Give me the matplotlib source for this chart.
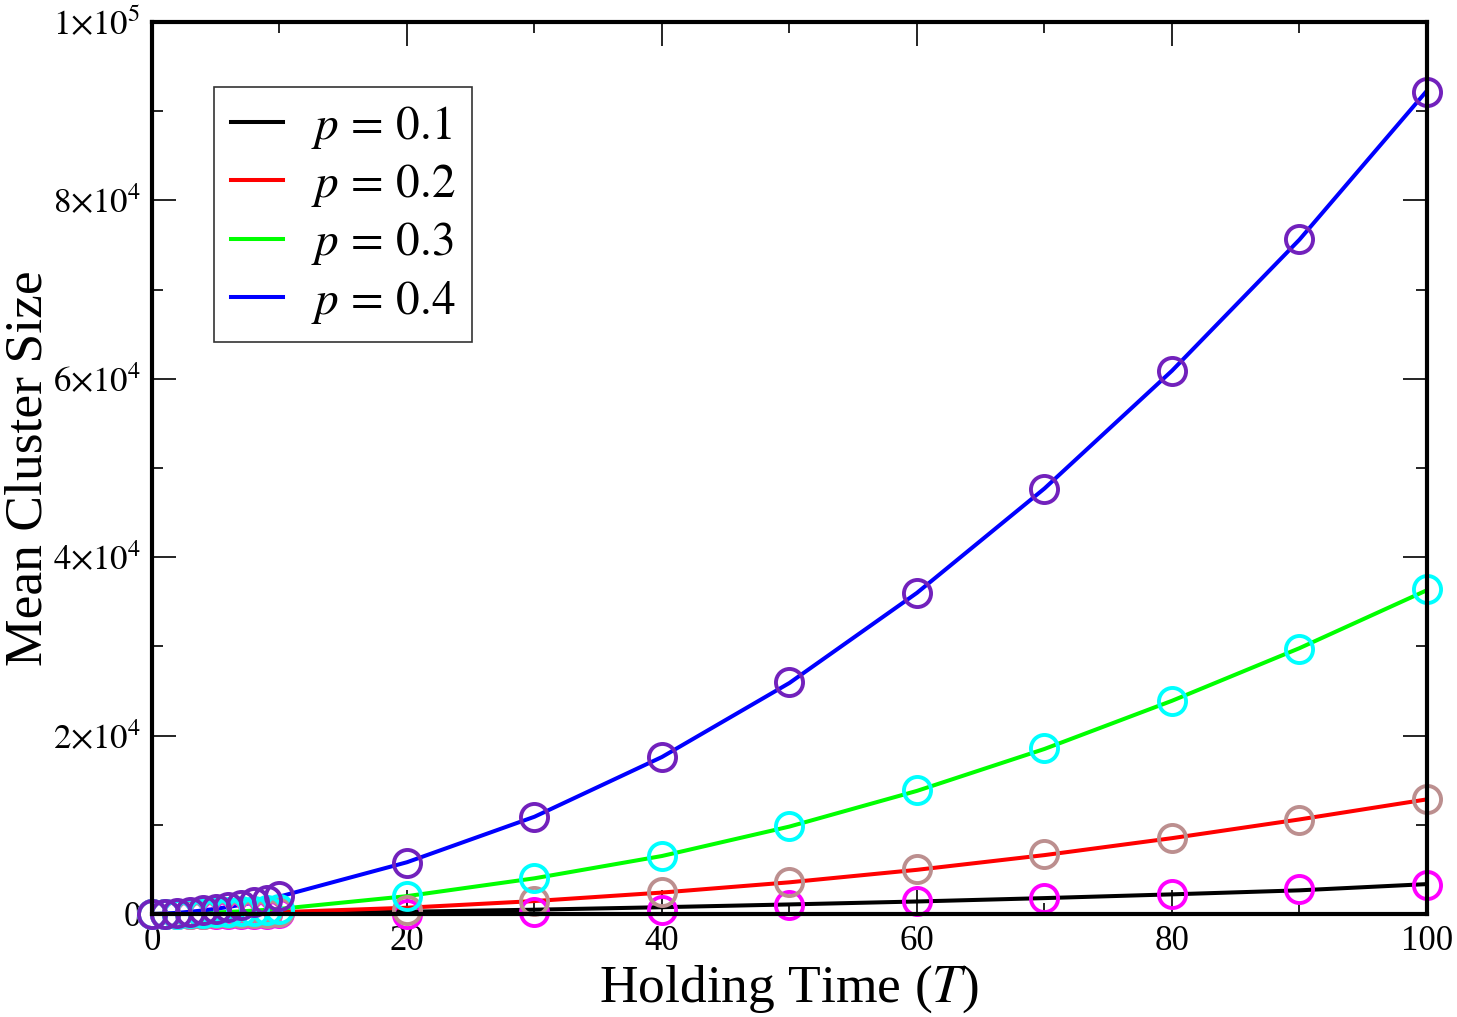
import matplotlib
matplotlib.use("Agg")
import matplotlib.pyplot as plt
from matplotlib.ticker import MultipleLocator, FuncFormatter

plt.rcParams['font.family'] = 'serif'
plt.rcParams['font.serif'] = ['Liberation Serif', 'DejaVu Serif']
plt.rcParams['mathtext.fontset'] = 'stix'

# holding time values
T = [0, 1, 2, 3, 4, 5, 6, 7, 8, 9, 10, 20, 30, 40, 50, 60, 70, 80, 90, 100]

# fitted curves (lines)
line_p01 = [0, 1, 3, 6, 10, 15, 21, 28, 36, 45, 55,
            250, 480, 760, 1070, 1400, 1780, 2200, 2650, 3350]
line_p02 = [0, 4, 12, 24, 40, 58, 80, 105, 133, 165, 200,
            700, 1450, 2400, 3550, 4950, 6600, 8500, 10600, 12850]
line_p03 = [0, 10, 35, 70, 115, 170, 230, 300, 380, 470, 570,
            2000, 4000, 6500, 9800, 13800, 18500, 23900, 29800, 36300]
line_p04 = [0, 45, 130, 250, 400, 580, 790, 1030, 1300, 1590, 1950,
            5800, 10900, 17600, 25900, 36000, 47700, 60900, 75600, 92300]

# simulation points (circles)
pts_p01 = [0, 1, 4, 8, 13, 18, 25, 32, 40, 50, 60,
           30, 250, 500, 1000, 1400, 1750, 2250, 2750, 3250]
pts_p02 = [0, 4, 12, 25, 40, 60, 80, 105, 135, 165, 200,
           450, 1500, 2450, 3600, 5000, 6700, 8550, 10550, 12900]
pts_p03 = [0, 10, 35, 70, 115, 170, 230, 300, 380, 470, 570,
           2050, 4000, 6500, 9900, 13850, 18600, 23900, 29700, 36400]
pts_p04 = [0, 45, 130, 250, 400, 580, 790, 1030, 1300, 1590, 2000,
           5700, 10850, 17600, 26000, 36000, 47600, 60900, 75700, 92200]

labels = [r'$p\,=\,0.1$', r'$p\,=\,0.2$', r'$p\,=\,0.3$', r'$p\,=\,0.4$']
line_colors = ['#000000', '#ff0000', '#00ff00', '#0000ff']
marker_colors = ['#ff00ff', '#bc8f8f', '#00ffff', '#7221bc']

fig = plt.figure(figsize=(14.57, 10.17), dpi=100)
ax = fig.add_axes([0.1043, 0.1013, 0.8751, 0.8771])

lines = [line_p01, line_p02, line_p03, line_p04]
pts = [pts_p01, pts_p02, pts_p03, pts_p04]

for y, c, lab in zip(lines, line_colors, labels):
    ax.plot(T, y, color=c, lw=2.9, label=lab, zorder=2)

for y, c in zip(pts, marker_colors):
    ax.plot(T, y, ls='none', marker='o', ms=19.5, mfc='none', mec=c, mew=2.8,
            clip_on=False, zorder=2.2)

ax.set_xlim(0, 100)
ax.set_ylim(0, 100000)
ax.xaxis.set_major_locator(MultipleLocator(20))
ax.xaxis.set_minor_locator(MultipleLocator(10))
ax.yaxis.set_major_locator(MultipleLocator(20000))
ax.yaxis.set_minor_locator(MultipleLocator(10000))


def sci_fmt(v, pos):
    if v == 0:
        return '0'
    exp = len(str(int(v))) - 1
    mant = int(round(v / 10 ** exp))
    return r'$%d{\times}10^{%d}$' % (mant, exp)


ax.yaxis.set_major_formatter(FuncFormatter(sci_fmt))

ax.tick_params(which='both', direction='in', top=True, right=True, width=1.2)
ax.tick_params(which='major', length=17, labelsize=25, pad=8)
ax.tick_params(which='minor', length=8)
for s in ax.spines.values():
    s.set_linewidth(3)

ax.set_xlabel(r'Holding Time ($T$)', fontsize=38.5, labelpad=4)
ax.set_ylabel('Mean Cluster Size', fontsize=38.5, labelpad=0)

leg = ax.legend(loc='upper left', bbox_to_anchor=(0.049, 0.927), fontsize=34,
                frameon=True, fancybox=False, edgecolor='black',
                handlelength=1.1, handletextpad=0.6, labelspacing=0.24,
                borderpad=0.35, borderaxespad=0)
leg.get_frame().set_linewidth(1.2)

fig.savefig('out.png', dpi=100)
